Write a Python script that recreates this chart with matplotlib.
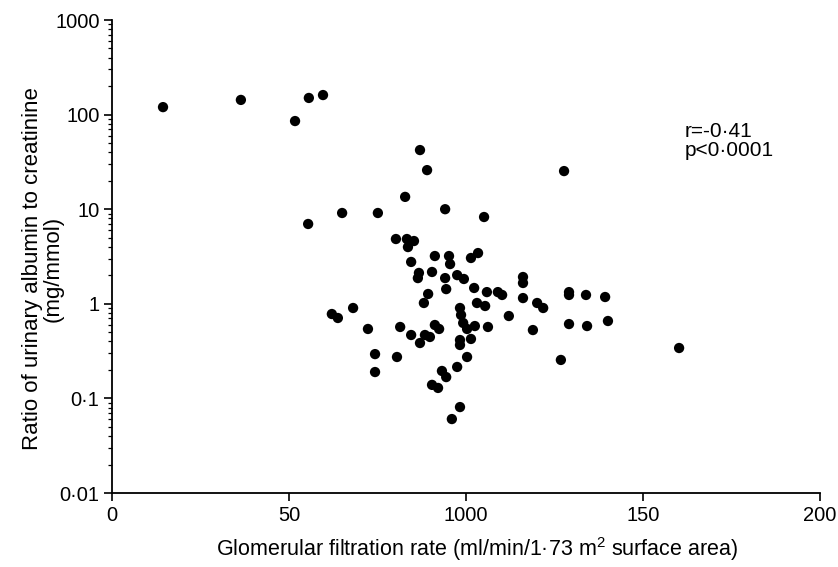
import matplotlib

matplotlib.use("Agg")

import matplotlib.pyplot as plt
from matplotlib.ticker import FixedLocator, LogLocator, NullFormatter

plt.rcParams["font.family"] = ["Liberation Sans", "DejaVu Sans"]
plt.rcParams["mathtext.fontset"] = "custom"
plt.rcParams["mathtext.rm"] = "Liberation Sans"

# GFR (ml/min/1.73 m2) and urinary albumin:creatinine ratio (mg/mmol)
gfr = [
    14.4, 36.4, 51.7, 55.6, 59.6, 87.0, 89.0, 127.7, 82.8, 94.1,
    105.1, 55.4, 65.0, 75.1, 80.2, 83.3, 85.3, 83.6, 91.2, 95.2,
    95.5, 101.4, 103.4, 84.5, 86.7, 86.4, 90.4, 94.1, 97.5, 99.4,
    116.1, 116.1, 94.4, 102.3, 105.9, 109.0, 110.2, 129.1, 129.1, 133.9,
    139.3, 116.1, 120.1, 121.8, 89.3, 88.1, 103.1, 105.4, 98.3, 98.6,
    112.1, 62.1, 63.8, 68.1, 72.3, 81.4, 84.5, 87.0, 74.3, 74.3,
    80.5, 88.4, 89.8, 91.2, 92.4, 99.2, 100.3, 102.5, 106.2, 98.3,
    98.3, 101.4, 118.9, 129.1, 134.2, 140.1, 100.3, 97.5, 93.2, 94.4,
    90.4, 92.1, 98.3, 96.0, 126.8, 160.2,
]
ratio = [
    120, 143, 85.5, 150, 161, 42.2, 25.9, 25.3, 13.5, 10.0,
    8.27, 6.98, 9.12, 9.12, 4.84, 4.84, 4.61, 3.98, 3.20, 3.20,
    2.63, 3.05, 3.44, 2.77, 2.12, 1.87, 2.17, 1.87, 2.01, 1.83,
    1.92, 1.66, 1.43, 1.47, 1.33, 1.33, 1.24, 1.33, 1.24, 1.24,
    1.18, 1.15, 1.02, 0.903, 1.27, 1.02, 1.02, 0.948, 0.903, 0.762,
    0.743, 0.780, 0.708, 0.903, 0.542, 0.569, 0.468, 0.385, 0.294, 0.190,
    0.274, 0.468, 0.446, 0.597, 0.542, 0.627, 0.542, 0.582, 0.569, 0.414,
    0.367, 0.425, 0.528, 0.611, 0.582, 0.658, 0.274, 0.215, 0.195, 0.168,
    0.139, 0.129, 0.081, 0.0605, 0.255, 0.341,
]

x_ticks = [0, 50, 100, 150, 200]
x_tick_labels = ["0", "50", "1000", "150", "200"]
y_ticks = [0.01, 0.1, 1, 10, 100, 1000]
y_tick_labels = ["0·01", "0·1", "1", "10", "100", "1000"]

fig = plt.figure(figsize=(8.38, 5.67), dpi=100)
ax = fig.add_axes([0.1337, 0.1305, 0.8448, 0.8342])

ax.scatter(gfr, ratio, s=55, color="black", edgecolors="none", zorder=3)

ax.set_yscale("log")
ax.set_xlim(0, 200)
ax.set_ylim(0.01, 1000)

ax.xaxis.set_major_locator(FixedLocator(x_ticks))
ax.set_xticklabels(x_tick_labels)
ax.yaxis.set_major_locator(FixedLocator(y_ticks))
ax.set_yticklabels(y_tick_labels)
ax.yaxis.set_minor_locator(LogLocator(base=10, subs=range(2, 10)))
ax.yaxis.set_minor_formatter(NullFormatter())

for side in ("top", "right"):
    ax.spines[side].set_visible(False)
for side in ("left", "bottom"):
    ax.spines[side].set_linewidth(1.3)

ax.tick_params(axis="both", which="major", labelsize=14.5, width=1.2, length=6, direction="out", color="black")
ax.tick_params(axis="y", which="minor", width=0.9, length=3, direction="out")
ax.tick_params(axis="x", pad=3)
ax.tick_params(axis="y", pad=3)

ax.set_xlabel(r"Glomerular filtration rate (ml/min/1·73 m$^{\mathrm{2}}$ surface area)", fontsize=15.5)
ax.xaxis.set_label_coords(0.516, -0.088)
ax.set_ylabel("Ratio of urinary albumin to creatinine\n(mg/mmol)", fontsize=16, linespacing=1.0)
ax.yaxis.set_label_coords(-0.068, 0.474)

ax.text(0.809, 0.785, "r=-0·41\np<0·0001", transform=ax.transAxes, fontsize=15, va="top", ha="left", linespacing=1.0)

fig.savefig("out.png", dpi=100)
plt.close(fig)
